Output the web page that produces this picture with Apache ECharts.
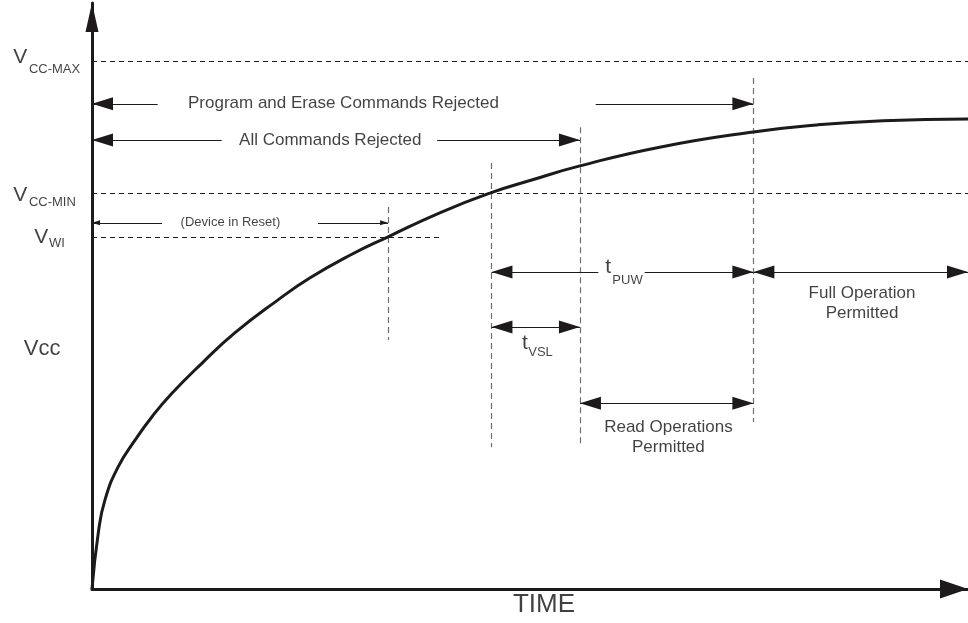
<!DOCTYPE html>
<html>
<head>
<meta charset="utf-8">
<script src="https://cdn.jsdelivr.net/npm/echarts@6/dist/echarts.min.js"></script>
<style>
  html, body { margin: 0; background: #fff; }
  #chart { width: 968px; height: 623px; }
</style>
</head>
<body>
<div id="chart"></div>
<script>
// time and Vcc in arbitrary units (0..100)
const vccCurve = [
  [0, 0], [0.72, 9.6], [1.48, 15.2], [2.97, 20.8], [4.91, 25.4], [6.85, 29.4],
  [9.13, 33.4], [12.6, 38.6], [16.3, 43.7], [21.2, 49.3], [24.9, 53.1],
  [29.5, 57.0], [33.8, 60.1], [39.7, 64.2], [45.5, 67.6], [50.0, 69.7],
  [55.7, 72.2], [64.8, 75.4], [75.5, 78.0], [82.8, 79.2], [90.3, 79.9],
  [100, 80.2]
];
// voltage levels
const vccMax = 90.1;
const vccMin = 67.6;
const vWi = 60.1;
// time markers
const tReset = 33.8;      // curve crosses V_WI
const tVslStart = 45.6;   // curve crosses V_CC-MIN
const tVslEnd = 55.7;
const tPuwEnd = 75.5;
const tEnd = 100;

const ink = '#1c1a1b';
const grey = '#6d6e71';
// solid triangle with its tip in the middle of the box
const head = 'path://M0,0M42,42M21,21L27.5,42L14.5,42Z';

// rows of the arrow annotations
const rowProgram = 82.8, rowAll = 76.6, rowReset = 62.5;
const rowPuw = 54.1, rowVsl = 44.7, rowRead = 31.7;

function seg(x1, y1, x2, y2) { return { coords: [[x1, y1], [x2, y2]] }; }

// text labels: [text, t, v, style]
const notes = [
  ['Program and Erase Commands Rejected', 28.7, rowProgram, 'body'],
  ['All Commands Rejected', 27.2, rowAll, 'body'],
  ['(Device in Reset)', 15.8, rowReset, 'small'],
  ['Full Operation\nPermitted', 87.9, 48.8, 'body'],
  ['Read Operations\nPermitted', 65.8, 25.8, 'body'],
  ['t', 58.6, 54.9, 'sym'], ['PUW', 59.4, 52.7, 'sub'],
  ['t', 49.1, 42.0, 'sym'], ['VSL', 49.8, 40.4, 'sub'],
  ['TIME', 51.6, -2.7, 'axis'],
  ['Vcc', -5.7, 41.0, 'vcc'],
  ['V', -9.0, 90.7, 'sym'], ['CC-MAX', -7.2, 88.6, 'sub'],
  ['V', -9.0, 67.2, 'sym'], ['CC-MIN', -7.2, 65.9, 'sub'],
  ['V', -6.6, 60.0, 'sym'], ['WI', -4.9, 59.0, 'sub']
];
const noteStyle = {
  body: { fontSize: 17, align: 'center', lineHeight: 20 },
  small: { fontSize: 13, align: 'center' },
  sym: { fontSize: 21, align: 'left' },
  sub: { fontSize: 13, align: 'left' },
  axis: { fontSize: 26, align: 'center' },
  vcc: { fontSize: 22, align: 'center' }
};

const chart = echarts.init(document.getElementById('chart'));

const option = {
  animation: false,
  grid: { left: 92, right: 0, top: 3, bottom: 34 },
  xAxis: {
    type: 'value', min: 0, max: 100,
    axisLine: {
      show: true, onZero: false,
      lineStyle: { color: ink, width: 3 },
      symbol: ['none', 'triangle'], symbolSize: [19, 28], symbolOffset: [0, -14]
    },
    axisTick: { show: false }, axisLabel: { show: false }, splitLine: { show: false }
  },
  yAxis: {
    type: 'value', min: 0, max: 100,
    axisLine: {
      show: true, onZero: false,
      lineStyle: { color: ink, width: 3 },
      symbol: ['none', 'triangle'], symbolSize: [13, 29], symbolOffset: [0, -14.5]
    },
    axisTick: { show: false }, axisLabel: { show: false }, splitLine: { show: false }
  },
  series: [
    {
      // horizontal voltage levels
      type: 'lines', coordinateSystem: 'cartesian2d', silent: true,
      lineStyle: { color: ink, width: 1, type: [5, 4], opacity: 1 },
      data: [
        seg(0, vccMax, tEnd, vccMax),
        seg(0, vccMin, tEnd, vccMin),
        seg(0, vWi, 39.7, vWi)
      ]
    },
    {
      // vertical time markers
      type: 'lines', coordinateSystem: 'cartesian2d', silent: true,
      lineStyle: { color: grey, width: 1.2, type: [6, 4], opacity: 1 },
      data: [
        seg(tReset, 65.2, tReset, 42.5),
        seg(tVslStart, 72.7, tVslStart, 24.2),
        seg(tVslEnd, 78.8, tVslEnd, 24.2),
        seg(tPuwEnd, 87.2, tPuwEnd, 28.5)
      ]
    },
    {
      // single-headed arrows
      type: 'lines', coordinateSystem: 'cartesian2d', silent: true,
      symbol: ['none', head], symbolSize: 42,
      lineStyle: { color: ink, width: 1, opacity: 1 },
      data: [
        seg(7.5, rowProgram, 0, rowProgram),
        seg(57.5, rowProgram, tPuwEnd, rowProgram),
        seg(14.8, rowAll, 0, rowAll),
        seg(39.4, rowAll, tVslEnd, rowAll),
        seg(57.8, rowPuw, tVslStart, rowPuw),
        seg(63.1, rowPuw, tPuwEnd, rowPuw)
      ]
    },
    {
      // small arrows for device in reset
      type: 'lines', coordinateSystem: 'cartesian2d', silent: true,
      symbol: ['none', head], symbolSize: 16,
      lineStyle: { color: ink, width: 1, opacity: 1 },
      data: [
        seg(8.0, rowReset, 0, rowReset),
        seg(25.8, rowReset, tReset, rowReset)
      ]
    },
    {
      // double-headed arrows
      type: 'lines', coordinateSystem: 'cartesian2d', silent: true,
      symbol: [head, head], symbolSize: 42,
      lineStyle: { color: ink, width: 1, opacity: 1 },
      data: [
        seg(tPuwEnd, rowPuw, tEnd, rowPuw),
        seg(tVslStart, rowVsl, tVslEnd, rowVsl),
        seg(tVslEnd, rowRead, tPuwEnd, rowRead)
      ]
    },
    {
      name: 'Vcc', type: 'line', data: vccCurve,
      smooth: 0.5, showSymbol: false, silent: true,
      lineStyle: { color: ink, width: 3 }, z: 5
    },
    {
      type: 'scatter', symbolSize: 0, clip: false, silent: true, z: 6,
      data: notes.map(n => ({
        name: n[0], value: [n[1], n[2]],
        label: Object.assign({ color: '#111' }, noteStyle[n[3]])
      })),
      label: {
        show: true, position: 'inside', verticalAlign: 'middle',
        color: '#111', fontFamily: 'Liberation Sans, Arial, sans-serif',
        formatter: p => p.name
      }
    }
  ]
};
chart.setOption(option);
</script>
</body>
</html>
